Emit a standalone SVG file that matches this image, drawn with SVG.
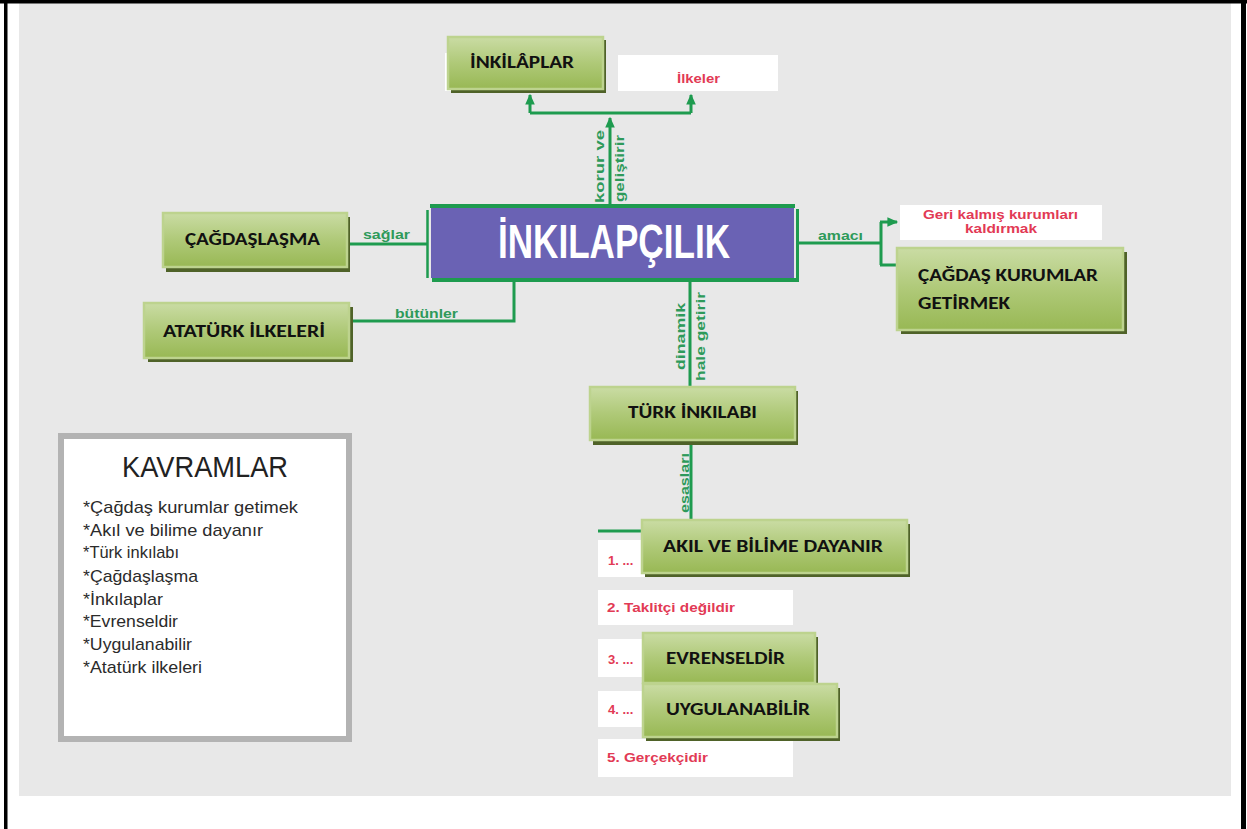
<svg xmlns="http://www.w3.org/2000/svg" width="1247" height="829" viewBox="0 0 1247 829">
<defs>
<linearGradient id="gn" x1="0" y1="0" x2="0" y2="1">
<stop offset="0" stop-color="#cadca4"/>
<stop offset="0.5" stop-color="#afc978"/>
<stop offset="1" stop-color="#98b854"/>
</linearGradient>
<marker id="ah" viewBox="0 0 10 10" refX="8" refY="5" markerWidth="4" markerHeight="4" orient="auto" markerUnits="strokeWidth">
<path d="M0,1 L9,5 L0,9 z" fill="#1e9b4f"/>
</marker>
<style>
.sh{fill:#4f6228}
.nd{fill:url(#gn);stroke:#bdd38e;stroke-width:2.5}
.nt{font-family:Carlito,Lato,"Liberation Sans",sans-serif;font-weight:bold;font-size:17px;fill:#111}
.wb{fill:#ffffff}
.rt{font-family:"Liberation Sans",Arial,sans-serif;font-weight:bold;font-size:13px;fill:#e23a55}
.ln{stroke:#1e9b4f;stroke-width:3;fill:none}
.lb{font-family:"Liberation Sans",Arial,sans-serif;font-weight:bold;font-size:13px;fill:#2e9a5a}
.kv{font-family:"Liberation Sans",Arial,sans-serif;font-size:17px;fill:#2b2b2b}
</style>
</defs>
<rect x="0" y="0" width="1247" height="829" fill="#ffffff"/>
<rect x="19" y="3" width="1212" height="793" fill="#e8e8e8"/>
<rect x="4" y="0" width="3.5" height="829" fill="#000"/>
<rect x="0" y="0" width="1247" height="3.5" fill="#000"/>
<rect x="1241" y="0" width="5" height="829" fill="#000"/>

<g id="connectors">
<path class="ln" d="M610,205 V118" marker-end="url(#ah)"/>
<path class="ln" d="M530,113 H691"/>
<path class="ln" d="M530,113 V95" marker-end="url(#ah)"/>
<path class="ln" d="M691,113 V95" marker-end="url(#ah)"/>
<text class="lb" transform="translate(604,203) rotate(-90)" textLength="73" lengthAdjust="spacingAndGlyphs">korur ve</text>
<text class="lb" transform="translate(624,202) rotate(-90)" textLength="67" lengthAdjust="spacingAndGlyphs">geliştirir</text>
<path class="ln" d="M349,244 H428"/>
<text class="lb" x="363" y="239" textLength="47" lengthAdjust="spacingAndGlyphs">sağlar</text>
<path class="ln" d="M352,321 H514 V282"/>
<text class="lb" x="395" y="318" textLength="63" lengthAdjust="spacingAndGlyphs">bütünler</text>
<path class="ln" d="M799,243 H881"/>
<text class="lb" x="818" y="240" textLength="45" lengthAdjust="spacingAndGlyphs">amacı</text>
<path class="ln" d="M881,222 V265"/>
<path class="ln" d="M880,222 H897" marker-end="url(#ah)"/>
<path class="ln" d="M880,265 H898"/>
<path class="ln" d="M690,282 V389"/>
<text class="lb" transform="translate(685,370) rotate(-90)" textLength="67" lengthAdjust="spacingAndGlyphs">dinamik</text>
<text class="lb" transform="translate(705,381) rotate(-90)" textLength="89" lengthAdjust="spacingAndGlyphs">hale getirir</text>
<path class="ln" d="M691,444 V521"/>
<text class="lb" transform="translate(689,513) rotate(-90)" textLength="60" lengthAdjust="spacingAndGlyphs">esasları</text>
<path class="ln" d="M598,531 H645"/>
</g>

<g id="inkilapcilik">
<rect x="431" y="207" width="363" height="71" fill="#6a62b4"/>
<path d="M430,206 H795" stroke="#1e9b4f" stroke-width="4"/>
<path d="M432,280 H799" stroke="#1e9b4f" stroke-width="4"/>
<path d="M427.5,210 V278" stroke="#1e9b4f" stroke-width="2.5"/>
<path d="M797.5,209 V281" stroke="#1e9b4f" stroke-width="3"/>
<text x="498" y="258" font-family="'Liberation Sans',Arial,sans-serif" font-weight="bold" font-size="48" fill="#ffffff" textLength="232" lengthAdjust="spacingAndGlyphs">İNKILAPÇILIK</text>
</g>

<g id="ilkeler">
<rect class="wb" x="618" y="55" width="160" height="36"/>
<text class="rt" x="677" y="83" textLength="43" lengthAdjust="spacingAndGlyphs">İlkeler</text>
</g>

<g id="inkilaplar">
<rect class="wb" x="445" y="53" width="160" height="38"/>
<rect class="sh" x="451" y="40" width="155" height="53"/>
<rect class="nd" x="448" y="37" width="155" height="52"/>
<text class="nt" x="470" y="68" textLength="104" lengthAdjust="spacingAndGlyphs">İNKİLÂPLAR</text>
</g>

<g id="cagdaslasma">
<rect class="sh" x="166" y="217" width="184" height="55"/>
<rect class="nd" x="163" y="213" width="184" height="54"/>
<text class="nt" x="185" y="245" textLength="135" lengthAdjust="spacingAndGlyphs">ÇAĞDAŞLAŞMA</text>
</g>

<g id="ataturk-ilkeleri">
<rect class="sh" x="148" y="307" width="205" height="55"/>
<rect class="nd" x="144" y="303" width="205" height="55"/>
<text class="nt" x="163" y="337" textLength="162" lengthAdjust="spacingAndGlyphs">ATATÜRK İLKELERİ</text>
</g>

<g id="geri-kalmis">
<rect class="wb" x="900" y="205" width="202" height="35"/>
<text class="rt" x="923" y="219" font-size="12" textLength="155" lengthAdjust="spacingAndGlyphs">Geri kalmış kurumları</text>
<text class="rt" x="965" y="233" font-size="12" textLength="72" lengthAdjust="spacingAndGlyphs">kaldırmak</text>
</g>

<g id="cagdas-kurumlar">
<rect class="sh" x="901" y="252" width="226" height="82"/>
<rect class="nd" x="897" y="248" width="226" height="82"/>
<text class="nt" x="918" y="281" textLength="180" lengthAdjust="spacingAndGlyphs">ÇAĞDAŞ KURUMLAR</text>
<text class="nt" x="918" y="309" textLength="92" lengthAdjust="spacingAndGlyphs">GETİRMEK</text>
</g>

<g id="turk-inkilabi">
<rect class="sh" x="593" y="391" width="205" height="54"/>
<rect class="nd" x="590" y="387" width="205" height="53"/>
<text class="nt" x="628" y="418" textLength="129" lengthAdjust="spacingAndGlyphs">TÜRK İNKILABI</text>
</g>

<g id="liste">
<rect class="wb" x="598" y="540" width="195" height="37"/>
<text class="rt" x="608" y="565">1. ...</text>
<rect class="wb" x="598" y="590" width="195" height="35"/>
<text class="rt" x="607" y="612" textLength="128" lengthAdjust="spacingAndGlyphs">2. Taklitçi değildir</text>
<rect class="wb" x="598" y="639" width="195" height="38"/>
<text class="rt" x="608" y="664">3. ...</text>
<rect class="wb" x="598" y="691" width="195" height="36"/>
<text class="rt" x="608" y="714">4. ...</text>
<rect class="wb" x="598" y="739" width="195" height="38"/>
<text class="rt" x="607" y="762" textLength="101" lengthAdjust="spacingAndGlyphs">5. Gerçekçidir</text>
</g>

<g id="akil">
<rect class="sh" x="645" y="524" width="265" height="53"/>
<rect class="nd" x="642" y="520" width="265" height="53"/>
<text class="nt" x="663" y="552" textLength="220" lengthAdjust="spacingAndGlyphs">AKIL VE BİLİME DAYANIR</text>
</g>

<g id="evrenseldir">
<rect class="sh" x="646" y="637" width="172" height="49"/>
<rect class="nd" x="643" y="633" width="172" height="50"/>
<text class="nt" x="666" y="664" textLength="119" lengthAdjust="spacingAndGlyphs">EVRENSELDİR</text>
</g>

<g id="uygulanabilir">
<rect class="sh" x="646" y="688" width="194" height="53"/>
<rect class="nd" x="643" y="684" width="194" height="53"/>
<text class="nt" x="666" y="715" textLength="144" lengthAdjust="spacingAndGlyphs">UYGULANABİLİR</text>
</g>

<g id="kavramlar">
<rect x="61" y="436" width="288" height="303" fill="#ffffff" stroke="#b3b3b3" stroke-width="6"/>
<text x="122" y="477" font-family="'Liberation Sans',Arial,sans-serif" font-size="30" fill="#222" textLength="166" lengthAdjust="spacingAndGlyphs">KAVRAMLAR</text>
<text class="kv" x="83" y="513" textLength="215" lengthAdjust="spacingAndGlyphs">*Çağdaş kurumlar getimek</text>
<text class="kv" x="83" y="536" textLength="180" lengthAdjust="spacingAndGlyphs">*Akıl ve bilime dayanır</text>
<text class="kv" x="83" y="558" textLength="96" lengthAdjust="spacingAndGlyphs">*Türk inkılabı</text>
<text class="kv" x="83" y="582" textLength="115" lengthAdjust="spacingAndGlyphs">*Çağdaşlaşma</text>
<text class="kv" x="83" y="605" textLength="80" lengthAdjust="spacingAndGlyphs">*İnkılaplar</text>
<text class="kv" x="83" y="627" textLength="95" lengthAdjust="spacingAndGlyphs">*Evrenseldir</text>
<text class="kv" x="83" y="650" textLength="109" lengthAdjust="spacingAndGlyphs">*Uygulanabilir</text>
<text class="kv" x="83" y="673" textLength="119" lengthAdjust="spacingAndGlyphs">*Atatürk ilkeleri</text>
</g>
</svg>
